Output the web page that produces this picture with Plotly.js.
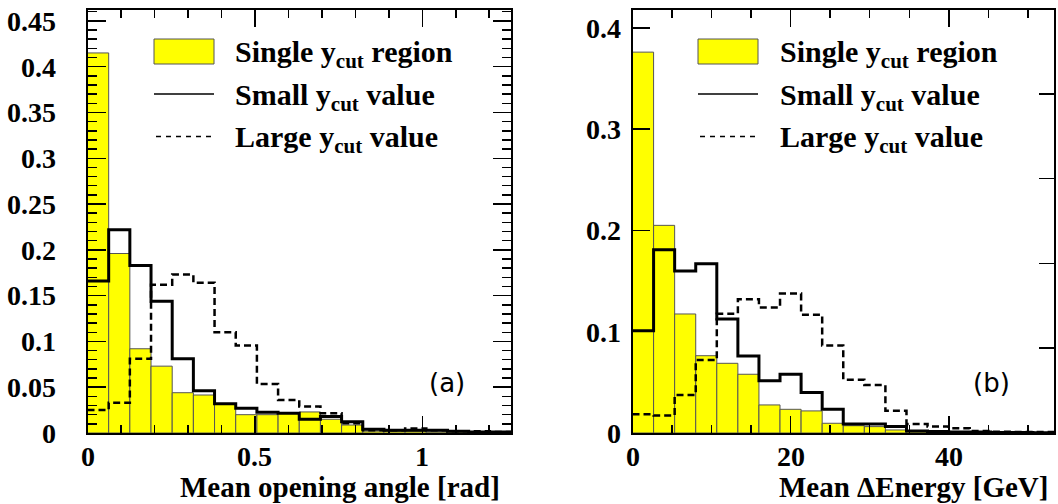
<!DOCTYPE html>
<html>
<head>
<meta charset="utf-8">
<script src="https://cdn.plot.ly/plotly-3.0.1.min.js"></script>
<style>html,body{margin:0;padding:0;background:#fff;}#chart{width:1058px;height:504px;}</style>
</head>
<body>
<div id="chart"></div>
<script>
// ---------------- data ----------------
const angleRange = [0, 1.265];     // histogram x-range (rad), 20 bins
const energyRange = [0, 53.3];     // histogram x-range (GeV), 20 bins
const nBins = 20;

const angleSingle = [0.415,0.196,0.092,0.073,0.044,0.0415,0.032,0.020,0.020,0.0215,0.023,0.015,0.0087,0.002,0.002,0.002,0.001,0.001,0.001,0.0005];
const angleSmall  = [0.166,0.222,0.183,0.144,0.081,0.046,0.032,0.027,0.0226,0.0215,0.015,0.018,0.0124,0.004,0.003,0.003,0.003,0.002,0.001,0.001];
const angleLarge  = [0.025,0.033,0.081,0.162,0.173,0.164,0.110,0.0955,0.0536,0.036,0.029,0.0215,0.0106,0.003,0.003,0.005,0.003,0.002,0.002,0.001];

const energySingle = [0.376,0.205,0.1175,0.0763,0.0688,0.058,0.0277,0.0234,0.0218,0.0096,0.0072,0.0063,0.003,0.0013,0.0008,0.0005,0.0003,0.0002,0.0001,0];
const energySmall  = [0.101,0.181,0.160,0.167,0.1125,0.076,0.0515,0.058,0.040,0.0234,0.0089,0.0089,0.0063,0.002,0.0015,0.001,0.001,0.0005,0.0005,0.0003];
const energyLarge  = [0.0185,0.0172,0.0376,0.072,0.1178,0.132,0.124,0.1376,0.1168,0.0865,0.0525,0.0475,0.022,0.0089,0.0063,0.0046,0.002,0.0013,0.001,0.001];

const angleTickVals = [0, 0.5, 1];
const angleTickText = ['0', '0.5', '1'];
const energyTickVals = [0, 20, 40];
const energyTickText = ['0', '20', '40'];
const angleYTickVals = [0,0.05,0.1,0.15,0.2,0.25,0.3,0.35,0.4,0.45];
const angleYTickText = ['0','0.05','0.1','0.15','0.2','0.25','0.3','0.35','0.4','0.45'];
const energyYTickVals = [0,0.1,0.2,0.3,0.4];
const energyYTickText = ['0','0.1','0.2','0.3','0.4'];
const energyRightTickVals = [0.0837,0.1674,0.2511,0.3348];

const legendLabels = ['Single y<sub>cut</sub> region','Small y<sub>cut</sub> value','Large y<sub>cut</sub> value'];
const xTitles = ['Mean opening angle [rad]','Mean ΔEnergy [GeV]'];
const panelTags = ['(a)','(b)'];

// ---------------- helpers ----------------
function edges(r){ const w=(r[1]-r[0])/nBins; const e=[]; for(let i=0;i<=nBins;i++) e.push(r[0]+i*w); return e; }
function centers(r){ const e=edges(r); return e.slice(0,-1).map((v,i)=>(v+e[i+1])/2); }
function stepY(v){ return v.concat([v[v.length-1]]); }
const W=1058,H=504;
const px = x => x/W, py = y => 1 - y/H;

const serif = '"Liberation Serif", "Times New Roman", serif';
const yellow = '#ffff00';

function histTraces(range, single, small, large, xa, ya){
  const w=(range[1]-range[0])/nBins;
  return [
    {type:'bar', x:centers(range), y:single, width:w, xaxis:xa, yaxis:ya,
     marker:{color:yellow, line:{color:'#555', width:1}}, showlegend:false, hoverinfo:'skip'},
    {type:'scatter', mode:'lines', x:edges(range), y:stepY(small), xaxis:xa, yaxis:ya,
     line:{shape:'hv', color:'#000', width:3}, showlegend:false},
    {type:'scatter', mode:'lines', x:edges(range), y:stepY(large), xaxis:xa, yaxis:ya,
     line:{shape:'hv', color:'#000', width:2.5, dash:'7px,4px'}, showlegend:false}
  ];
}

const data = [].concat(
  histTraces(angleRange, angleSingle, angleSmall, angleLarge, 'x', 'y'),
  histTraces(energyRange, energySingle, energySmall, energyLarge, 'x2', 'y2')
);

const tickFont = {family: serif, size: 28, color:'#000', weight:700};
const yDom = [py(433), py(10)];

function axisBase(){ return {showgrid:false, zeroline:false, showline:true, linecolor:'#000', linewidth:2,
  ticks:'inside', tickcolor:'#000', tickwidth:1.5, tickfont:Object.assign({}, tickFont), fixedrange:true}; }

const layout = {
  width:W, height:H, margin:{l:0,r:0,t:0,b:0},
  font:{family: serif, size: 28, color:'#000', weight:700},
  paper_bgcolor:'#fff', plot_bgcolor:'#fff', barmode:'overlay', bargap:0, showlegend:false,
  xaxis: Object.assign(axisBase(), {domain:[px(87.5), px(511)], range:angleRange, anchor:'y',
    tickmode:'array', tickvals:angleTickVals, ticktext:angleTickText, ticklen:17, mirror:'ticks',
    showticklabels:false,
    minor:{dtick:0.1, tick0:0, ticks:'inside', ticklen:8, tickcolor:'#000', tickwidth:1.5, showgrid:false}}),
  yaxis: Object.assign(axisBase(), {domain:yDom, range:[0,0.4619], anchor:'x',
    tickmode:'array', tickvals:angleYTickVals, ticktext:angleYTickText, ticklen:18, mirror:'ticks',
    ticklabelstandoff:24,
    minor:{dtick:0.01, tick0:0, ticks:'inside', ticklen:9, tickcolor:'#000', tickwidth:1.5, showgrid:false}}),
  xaxis2: Object.assign(axisBase(), {domain:[px(632.5), px(1054)], range:energyRange, anchor:'y2',
    tickmode:'array', tickvals:energyTickVals, ticktext:energyTickText, ticklen:17, mirror:'ticks',
    showticklabels:false,
    minor:{dtick:5, tick0:0, ticks:'inside', ticklen:8, tickcolor:'#000', tickwidth:1.5, showgrid:false}}),
  yaxis2: Object.assign(axisBase(), {domain:yDom, range:[0,0.4176], anchor:'x2',
    tickmode:'array', tickvals:energyYTickVals, ticktext:energyYTickText, ticklen:17, mirror:true,
    ticklabelstandoff:4}),
  yaxis3: {overlaying:'y2', anchor:'x2', side:'right', range:[0,0.4176], showgrid:false, zeroline:false,
    showline:false, tickmode:'array', tickvals:energyRightTickVals, ticks:'inside', ticklen:15,
    tickwidth:1.5, tickcolor:'#000', showticklabels:false, fixedrange:true},
  shapes:[], annotations:[]
};

// dummy trace to activate yaxis3
data.push({type:'scatter', x:[0], y:[0], xaxis:'x2', yaxis:'y3', mode:'markers',
  marker:{opacity:0}, showlegend:false, hoverinfo:'skip'});

// x tick labels placed on the axis scale (closer to the axis than Plotly's default)
[['x', angleTickVals, angleTickText], ['x2', energyTickVals, energyTickText]].forEach(([xr, vals, txt]) => {
  vals.forEach((v, i) => {
    layout.annotations.push({xref:xr, yref:'paper', x:v, y:py(456), xanchor:'center', yanchor:'middle',
      text:txt[i], showarrow:false, font:Object.assign({}, tickFont)});
  });
});

// legends (drawn in paper coordinates)
const legendX = [154, 698];
const textX = [233, 778];
legendX.forEach((lx, k) => {
  layout.shapes.push({type:'rect', xref:'paper', yref:'paper', x0:px(lx), x1:px(lx+60), y0:py(64), y1:py(39),
    fillcolor:yellow, line:{color:'#555', width:1}});
  layout.shapes.push({type:'line', xref:'paper', yref:'paper', x0:px(lx), x1:px(lx+60), y0:py(94), y1:py(94),
    line:{color:'#000', width:1.5}});
  layout.shapes.push({type:'line', xref:'paper', yref:'paper', x0:px(lx+2), x1:px(lx+60), y0:py(136.5), y1:py(136.5),
    line:{color:'#000', width:1.5, dash:'5px,5px'}});
  [54, 97, 139].forEach((ty, i) => {
    layout.annotations.push({xref:'paper', yref:'paper', x:px(textX[k]), y:py(ty), xanchor:'left', yanchor:'middle',
      text:legendLabels[i], showarrow:false, font:{family:serif, size:30, color:'#000', weight:700}});
  });
});

// axis titles
[[502, xTitles[0]], [1050, xTitles[1]]].forEach(([x, t]) => {
  layout.annotations.push({xref:'paper', yref:'paper', x:px(x), y:py(487), xanchor:'right', yanchor:'middle',
    text:t, showarrow:false, font:{family:serif, size:29, color:'#000', weight:700}});
});

// panel tags
[[447, panelTags[0]], [991, panelTags[1]]].forEach(([x, t]) => {
  layout.annotations.push({xref:'paper', yref:'paper', x:px(x), y:py(383), xanchor:'center', yanchor:'middle',
    text:t, showarrow:false, font:{family:'DejaVu Sans, sans-serif', size:26, color:'#000', weight:400}});
});

Plotly.newPlot('chart', data, layout, {staticPlot:true});
</script>
</body>
</html>
